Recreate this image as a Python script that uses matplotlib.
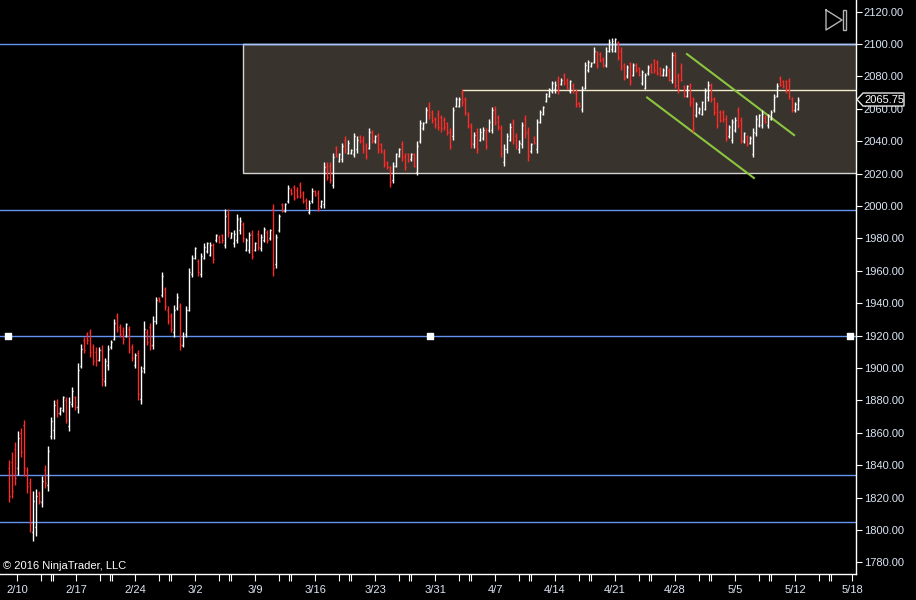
import matplotlib
matplotlib.use("Agg")
import matplotlib.pyplot as plt
import numpy as np
from matplotlib.patches import Rectangle, Polygon
from matplotlib.lines import Line2D

plt.rcParams['font.family'] = ['Liberation Sans', 'DejaVu Sans']

# ---------------- data (ES futures, bars from 2/10 to 5/12) ----------------
highs = [
    1843,1848,1854,1861,1863,1868,1839,1832,1824,1825,1824,1833,
    1840,1852,1870,1880,1881,1876,1883,1882,1882,1888,1883,1903,
    1915,1919,1922,1924,1915,1913,1913,1914,1906,1914,1917,1930,
    1934,1927,1925,1928,1926,1915,1909,1911,1901,1929,1924,1928,
    1932,1944,1944,1959,1950,1938,1934,1939,1946,1940,1922,1938,
    1962,1970,1975,1967,1971,1977,1978,1978,1977,1983,1982,1983,
    1998,1998,1984,1985,1995,1993,1990,1980,1984,1985,1978,1985,
    1983,1987,1985,1986,2001,1983,1995,2002,2002,2013,2011,2013,
    2012,2015,2009,2005,2004,2011,2010,2010,2004,2027,2027,2027,
    2033,2037,2033,2039,2043,2041,2035,2045,2043,2044,2043,2039,
    2048,2047,2044,2045,2039,2035,2028,2025,2027,2033,2036,2040,
    2033,2033,2033,2033,2040,2053,2052,2061,2064,2059,2055,2059,
    2056,2055,2052,2048,2061,2067,2067,2072,2067,2058,2051,2046,
    2048,2048,2049,2048,2054,2061,2062,2056,2050,2038,2045,2051,
    2054,2045,2041,2052,2056,2049,2039,2043,2054,2059,2062,2070,
    2073,2077,2077,2080,2079,2082,2079,2078,2076,2072,2064,2074,
    2089,2090,2089,2098,2096,2095,2092,2098,2103,2104,2104,2102,
    2098,2088,2087,2089,2088,2088,2086,2084,2082,2087,2088,2091,
    2090,2086,2085,2087,2085,2095,2095,2082,2088,2075,2075,2076,
    2067,2064,2061,2065,2073,2077,2076,2067,2064,2059,2059,2056,
    2050,2054,2055,2061,2055,2046,2044,2043,2048,2056,2057,2059,
    2056,2057,2059,2069,2076,2080,2078,2078,2079,2067,2064,2067,
]
lows = [
    1817,1820,1828,1834,1845,1833,1823,1799,1793,1796,1816,1814,
    1826,1824,1856,1856,1870,1871,1873,1866,1861,1876,1874,1872,
    1900,1909,1915,1907,1902,1901,1904,1889,1889,1899,1912,1917,
    1922,1919,1915,1919,1909,1904,1900,1880,1878,1897,1914,1911,
    1912,1927,1941,1944,1936,1927,1922,1919,1936,1911,1913,1919,
    1935,1956,1967,1957,1956,1967,1971,1969,1965,1978,1977,1977,
    1974,1981,1980,1975,1977,1983,1978,1972,1971,1967,1972,1973,
    1972,1978,1977,1979,1957,1962,1984,1996,1996,2002,2007,2004,
    2005,2005,2002,1998,1995,2002,2006,1997,1999,1999,2016,2014,
    2011,2030,2027,2027,2033,2032,2032,2030,2033,2039,2033,2029,
    2035,2039,2039,2033,2033,2024,2023,2012,2014,2024,2030,2028,
    2022,2027,2028,2024,2019,2039,2047,2051,2054,2051,2048,2047,
    2046,2047,2044,2035,2041,2061,2061,2062,2056,2048,2036,2036,
    2033,2040,2041,2035,2046,2045,2050,2047,2030,2025,2033,2040,
    2038,2035,2033,2036,2042,2028,2033,2038,2033,2051,2056,2064,
    2067,2070,2070,2069,2075,2075,2072,2070,2070,2061,2061,2058,
    2072,2083,2086,2088,2085,2089,2086,2086,2095,2095,2095,2090,
    2084,2078,2079,2075,2080,2083,2080,2075,2072,2081,2082,2082,
    2081,2080,2080,2080,2077,2076,2073,2070,2077,2067,2067,2062,
    2046,2055,2057,2056,2059,2065,2064,2056,2048,2052,2052,2040,
    2042,2039,2046,2048,2039,2039,2037,2038,2030,2043,2049,2048,
    2051,2048,2053,2058,2067,2074,2073,2070,2066,2058,2058,2059,
]
opens = [
    1838,1842,1850,1838,1860,1865,1837,1829,1799,1802,1823,1817,
    1837,1828,1858,1862,1879,1872,1874,1880,1864,1878,1882,1876,
    1901,1917,1921,1922,1913,1910,1905,1911,1892,1902,1913,1918,
    1932,1925,1923,1920,1924,1913,1902,1909,1881,1900,1922,1925,
    1914,1929,1943.5,1945,1949,1936,1932,1922,1937,1938,1914,1921,
    1936,1958,1968,1966,1958,1968,1972,1970,1976,1979,1981,1982,
    1976,1995,1980.5,1977,1979,1985,1989,1973,1973,1983,1973,1983,
    1974,1979,1984,1980,1998,1964,1985,2001,1997,2003,2010,2012,
    2010,2013,2008,2004,1996,2003,2009,2008,2000,2001,2025,2025,
    2013,2036,2028,2029,2041,2033,2032.5,2032,2035,2043,2041,2037,
    2036,2046,2040,2044,2038,2033,2027,2024,2016,2025,2031,2038,
    2031,2032,2029,2032,2021,2040,2048,2052,2062,2058,2054,2057,
    2055,2053,2051,2046,2043,2062,2062,2070,2066,2057,2049,2038,
    2046,2041,2042,2046,2047,2047,2060,2055,2048,2027,2035,2041,
    2052,2043,2035,2038,2054,2046,2034,2042,2035,2052,2057,2065,
    2068,2071,2072,2078,2075.5,2081,2078,2071,2075,2070,2063.5,2060,
    2073,2084,2086.5,2089,2095,2094,2091,2087,2096,2097,2096,2101,
    2096,2087,2080,2088,2081,2087,2085,2076,2073,2082,2087,2090,
    2089,2085,2081,2081,2084,2078,2093,2080,2086,2074,2068,2075,
    2066,2056,2058,2057,2060,2067,2075,2066,2062,2058,2058,2054,
    2043,2041,2047,2059,2053,2040,2043,2039,2032,2045,2050,2050,
    2055,2050,2054,2059,2068,2079,2077,2077,2077,2066,2059,2060,
]
closes = [
    1821,1824,1832,1857,1848,1838,1827,1804,1818,1821,1818,1830,
    1829,1849,1867,1877,1872,1875,1882,1868,1879,1886,1876,1899,
    1912,1911,1917,1910,1904,1905,1911,1893,1904,1912,1916,1928,
    1924,1921,1918,1927,1912,1906,1908,1884,1898,1924,1916,1914,
    1929,1942,1941.5,1957,1938,1929,1924,1936,1944,1914,1920,1936,
    1959,1968,1974,1959,1969,1975,1977,1976,1967,1982,1978,1979,
    1994,1984,1983.5,1983,1992,1991,1980,1979,1982,1969,1977,1975,
    1981,1986,1979,1985,1962,1981,1994,1997,2001,2011,2008,2005,
    2006,2007,2003,1999,2002,2009,2007,1999,2003,2024,2018,2016,
    2030,2031,2032,2037,2035,2039,2034.5,2043,2041,2040,2035,2031,
    2046,2041,2043,2035,2034,2026,2024,2015,2025,2032,2035,2030,
    2024,2028,2032,2025,2037,2051,2051,2059,2056,2053,2050,2049,
    2048,2049,2046,2037,2059,2066,2066,2064,2058,2050,2039,2044,
    2035,2046,2047,2037,2052,2059,2052,2049,2033,2035,2043,2049,
    2041,2037,2039,2050,2045,2031,2038,2039,2052,2058,2061,2069,
    2072,2076,2075,2071,2078,2076,2073,2077,2071,2063,2061.5,2072,
    2087,2089,2088.5,2096,2087,2090,2087,2096,2101,2102,2103,2092,
    2086,2079,2086,2077,2087,2084,2081,2083,2081,2086,2083,2084,
    2082,2081,2084,2086,2078,2093,2075,2072,2078,2068,2074,2064,
    2048,2063,2060,2064,2071,2075,2066,2058,2050,2053,2054,2042,
    2049,2052,2053,2050,2041,2045,2038,2042,2046,2054,2056,2057,
    2052,2056,2058,2067,2074,2075,2074,2072,2068,2059,2063,2065.75,
]

date_labels = ['2/10', '2/17', '2/24', '3/2', '3/9', '3/16', '3/23', '3/31',
               '4/7', '4/14', '4/21', '4/28', '5/5', '5/12', '5/18']
date_bar_pos = [2.7, 22.3, 42, 62, 82, 102, 122, 142, 162, 182, 202, 222, 242, 262, 281]
minor_offsets = [8.0, 11.3, 12.0]

# drawing objects
hlines_blue = [2100.0, 1997.5, 1920.0, 1834.0, 1805.0]
handle_bars = [-0.3, 140.3, 280.3]
handle_price = 1920.0
zone_start_bar = 78
zone_top = 2100.0
zone_bottom = 2020.5
mid_line_price = 2071.75
mid_line_start_bar = 151
channel_upper = ([226.0, 261.7], [2093.8, 2043.8])
channel_lower = ([212.7, 248.3], [2067.0, 2017.3])

yticks = list(range(1780, 2121, 20))

# ---------------- figure ----------------
W, H = 916, 600
fig = plt.figure(figsize=(W / 100, H / 100), dpi=100, facecolor='black')
ax_bottom_px = 26.5
ax_right_px = 856
ax = fig.add_axes([0, ax_bottom_px / H, ax_right_px / W, (H - ax_bottom_px) / H],
                  facecolor='black')
xmin, xmax = -3, 282.33
ax.set_xlim(xmin, xmax)
ax.set_ylim(1773.1, 2127.2)

label_color = '#dbe6f5'
blue = '#6494f2'

# zone rectangle
ax.add_patch(Rectangle((zone_start_bar, zone_bottom), xmax - zone_start_bar + 5,
                       zone_top - zone_bottom, facecolor='#38332c',
                       edgecolor='#d4d4d4', lw=1.0, zorder=1))

for p in hlines_blue:
    ax.axhline(p, color=blue, lw=1.0, zorder=2)
ax.plot([zone_start_bar, xmax + 5], [zone_top, zone_top],
        color='#a9c2f2', lw=1.0, zorder=2.5)
ax.scatter(handle_bars, [handle_price] * len(handle_bars), marker='s', s=22,
           color='white', zorder=6, clip_on=False)
ax.hlines(mid_line_price, mid_line_start_bar, xmax + 5, color='#f3ebcc', lw=1.0, zorder=2)
ax.plot(*channel_upper, color='#8cc63f', lw=1.5, zorder=3)
ax.plot(*channel_lower, color='#8cc63f', lw=1.5, zorder=3)

# OHLC bars
x = np.arange(len(closes))
o = np.array(opens, float)
c = np.array(closes, float)
cols = np.where(c >= o, '#ffffff', '#ff2b2b')
lw = 1.0
ax.vlines(x, lows, highs, colors=cols, lw=lw, zorder=4)
ax.hlines(o, x - 0.42, x, colors=cols, lw=lw, zorder=4)
ax.hlines(c, x, x + 0.42, colors=cols, lw=lw, zorder=4)

# axes styling
for s in ['top', 'left']:
    ax.spines[s].set_visible(False)
for s in ['bottom', 'right']:
    ax.spines[s].set_color('white')
    ax.spines[s].set_linewidth(1.0)

ax.yaxis.tick_right()
ax.set_yticks(yticks)
ax.set_yticklabels([f'{v:.2f}' for v in yticks])
ax.tick_params(axis='y', direction='out', length=4, width=0.8, colors='white',
               labelcolor=label_color, labelsize=8, pad=1.5)

ax.set_xticks(date_bar_pos)
ax.set_xticklabels(date_labels)
minor = [b + off for b in date_bar_pos[:-1] for off in minor_offsets]
ax.set_xticks(minor, minor=True)
ax.tick_params(axis='x', which='both', direction='out', length=5, width=0.8,
               colors='white', labelcolor=label_color, labelsize=8, pad=3)

ax.text(3 / ax_right_px, 7.5 / (H - ax_bottom_px), '\u00a9 2016 NinjaTrader, LLC',
        transform=ax.transAxes, color='white', fontsize=8, va='center', ha='left')

# last price marker
fig.canvas.draw()
yd = ax.transData.transform((0, closes[-1]))[1]
pts = [(857, yd), (863, yd + 6.5), (904, yd + 6.5), (904, yd - 6.5), (863, yd - 6.5)]
fig.add_artist(Polygon([(px / W, py / H) for px, py in pts], closed=True,
                       transform=fig.transFigure, facecolor='black',
                       edgecolor='#e6e6e6', lw=1.0, zorder=10))
fig.text(884 / W, yd / H, f'{closes[-1]:.2f}', color='white', fontsize=8,
         ha='center', va='center', zorder=11)

# scroll-to-end icon
tri = [(826, 10), (826, 30), (842, 20), (826, 10)]
fig.add_artist(Line2D([p[0] / W for p in tri], [(H - p[1]) / H for p in tri],
                      transform=fig.transFigure, color='#b4b4b4', lw=1.0))
fig.add_artist(Rectangle((842.5 / W, (H - 30) / H), 3.5 / W, 20 / H,
                         transform=fig.transFigure, facecolor='none',
                         edgecolor='#b4b4b4', lw=1.0))

fig.savefig('out.png', dpi=100, facecolor='black')
